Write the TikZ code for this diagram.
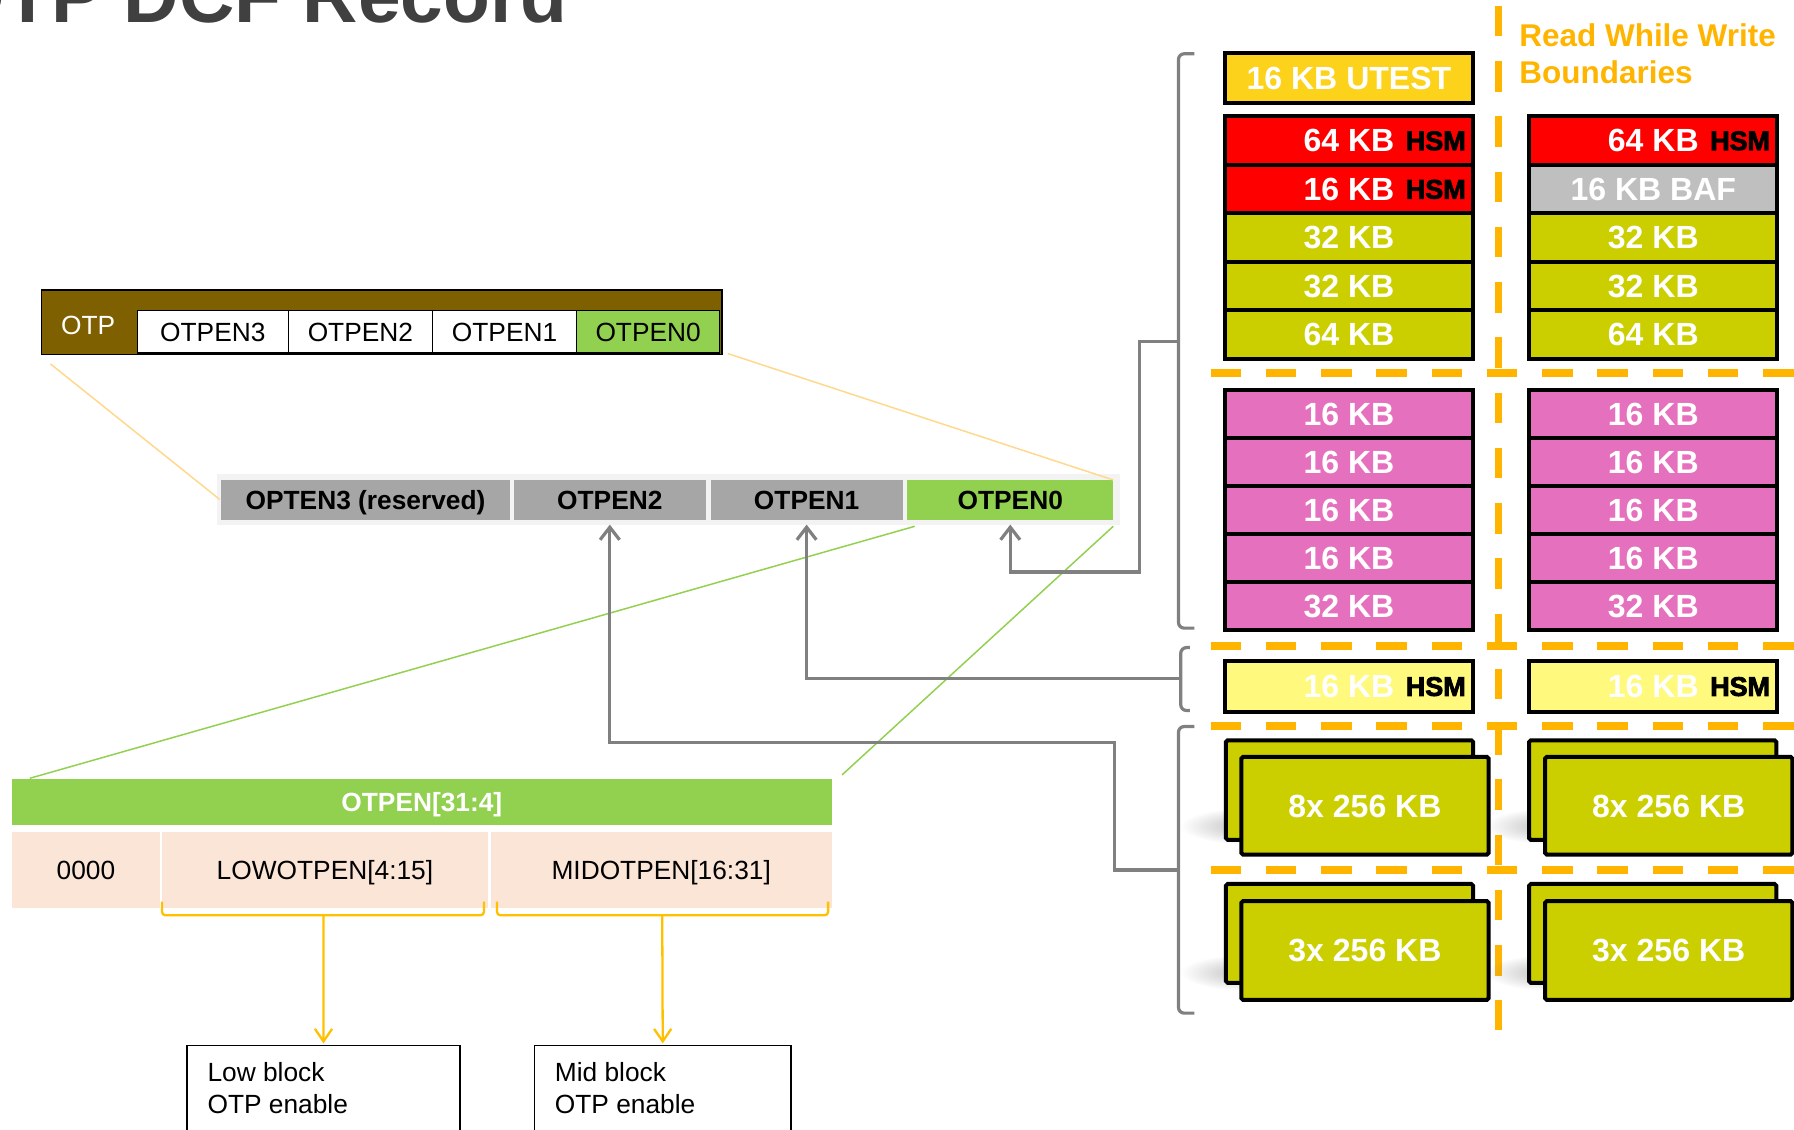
\documentclass[tikz,border=0pt]{standalone}
\usepackage{fontspec}
\setmainfont{Liberation Sans}
\newfontfamily\heavyfont[FakeBold=3]{Liberation Sans Bold}
\usetikzlibrary{arrows.meta,calc,fadings}

\definecolor{otpbrown}{HTML}{7F6000}
\definecolor{otpgreen}{HTML}{92D050}
\definecolor{cellgray}{HTML}{A6A6A6}
\definecolor{panelgray}{HTML}{F3F3F3}
\definecolor{arrowgray}{HTML}{808080}
\definecolor{peach}{HTML}{FBE5D6}
\definecolor{bracegold}{HTML}{FFC000}
\definecolor{rww}{HTML}{FFB400}
\definecolor{linkyellow}{HTML}{FFD88C}
\definecolor{titlegray}{HTML}{404040}
\definecolor{hsmred}{HTML}{FF0000}
\definecolor{kbgreen}{HTML}{CBCF00}
\definecolor{kbpink}{HTML}{E571BE}
\definecolor{utest}{HTML}{FDD21A}
\definecolor{hsmyellow}{HTML}{FFF97D}
\definecolor{bafgray}{HTML}{BFBFBF}

\newcommand\setsz[1]{\fontsize{#1}{#1}\selectfont}
\tikzfading[name=softspot, inner color=transparent!55, outer color=transparent!100]

\begin{document}
\begin{tikzpicture}[x=1pt, y=-1pt,
  every node/.style={inner sep=0pt, outer sep=0pt},
  capbox/.style={text height=16.5pt, text depth=0pt},
  otpcell/.style={draw=black, line width=1.2pt, fill=white, minimum height=37, font=\setsz{23}, capbox},
  gcell/.style={fill=cellgray, minimum height=35, font=\setsz{23}\bfseries, capbox},
  pcell/.style={fill=peach, minimum height=66.5, font=\setsz{23}, capbox},
  memrow/.style={draw=black, line width=3.5pt, minimum width=217, text=white, font=\setsz{28}\bfseries, text height=20pt, text depth=0pt},
  stackbox/.style={draw=black, line width=3.5pt, fill=kbgreen, rounded corners=1.5pt, minimum width=216, minimum height=86, text=white, font=\setsz{28}\bfseries, text height=20pt, text depth=0pt},
  hsmtag/.style={anchor=east, text=black, font=\heavyfont\setsz{23.5}, text height=17pt, text depth=0pt},
  infobox/.style={draw=black, line width=1.2pt, fill=white},
  infotext/.style={anchor=base west, font=\setsz{23}},
  garrow/.style={draw=arrowgray, line width=2.8pt, -{Straight Barb[length=11pt, width=17pt]}, shorten >=4pt},
  oarrow/.style={draw=bracegold, line width=2pt, -{Straight Barb[length=11pt, width=15pt]}, shorten >=2pt},
  bracket/.style={draw=arrowgray, line width=2.8pt, rounded corners=5pt},
  obrace/.style={draw=bracegold, line width=2pt, rounded corners=3pt},
  dashline/.style={draw=rww, line width=6.5pt, dash pattern=on 26.7pt off 21.6pt},
  thinlink/.style={line width=1.3pt},
  shadowspot/.style={black!60, path fading=softspot}
]
\useasboundingbox (0,0) rectangle (1568,987);
\clip (0,0) rectangle (1568,987);

% ---------- title ----------
\node[anchor=base west, text=titlegray, font=\setsz{67}\bfseries] (title) at (-48,20) {OTP DCF Record};

% ---------- OTP register ----------
\node[draw=black, line width=1.2pt, fill=otpbrown, minimum width=595, minimum height=56.5, anchor=north west] (otpbar) at (36,253.5) {};
\node[text=white, font=\setsz{23}, capbox] (otplbl) at (77,284) {OTP};
\node[otpcell, minimum width=132] (o3) at (186,290) {OTPEN3};
\node[otpcell, minimum width=126] (o2) at (315,290) {OTPEN2};
\node[otpcell, minimum width=126] (o1) at (441,290) {OTPEN1};
\node[otpcell, minimum width=125, fill=otpgreen] (o0) at (566.5,290) {OTPEN0};

% ---------- enable field row ----------
\node[fill=panelgray, minimum width=789, minimum height=45] (panel) at (584.5,436.5) {};
\draw[linkyellow, thinlink] ($(otpbar.south west)+(8,8)$) -- ($(panel.west)+(2,0)$);
\node[gcell, minimum width=253] (g3) at (319.5,437) {OPTEN3 (reserved)};
\node[gcell, minimum width=168] (g2) at (533,437) {OTPEN2};
\node[gcell, minimum width=168] (g1) at (705,437) {OTPEN1};
\node[gcell, minimum width=180, fill=otpgreen] (g0) at (883,437) {OTPEN0};
\draw[linkyellow, thinlink] ($(otpbar.south east)+(5,-1)$) -- (g0.north east);

% ---------- OTPEN[31:4] detail ----------
\node[fill=otpgreen, minimum width=716.6, minimum height=39.5, text=white, font=\setsz{23}\bfseries, capbox] (gbar) at (368.7,701) {OTPEN[31:4]};
\draw[otpgreen, thinlink] ($(g0.south west)+(6.5,5.5)$) -- ($(gbar.north west)+(15.6,-1)$);
\draw[otpgreen, thinlink] ($(g0.south east)+(0,5.5)$) -- ($(gbar.north east)+(9,-4)$);
\node[pcell, minimum width=129.4] (p0) at (75.1,760.25) {0000};
\node[pcell, minimum width=285] (p1) at (284,760.25) {LOWOTPEN[4:15]};
\node[pcell, minimum width=298.3] (p2) at (577.9,760.25) {MIDOTPEN[16:31]};

% braces under the low / mid fields
\draw[obrace] (141.6,788) -- (141.6,800) -- (423,800) -- (423,788);
\draw[obrace] (434.4,788) -- (434.4,800) -- (723.8,800) -- (723.8,788);
\coordinate (lowtip) at (282.8,800);
\coordinate (midtip) at (578.8,800);

\node[infobox, minimum width=238.5, minimum height=96] (lowbox) at (282.75,962) {};
\node[infobox, minimum width=224.5, minimum height=96] (midbox) at (579.25,962) {};
\node[infotext] (lowt1) at (181.4,945.4) {Low block};
\node[infotext] (lowt2) at (181.4,973) {OTP enable};
\node[infotext] (midt1) at (485,945.4) {Mid block};
\node[infotext] (midt2) at (485,973) {OTP enable};
\draw[oarrow] (lowtip) -- (lowbox.north);
\draw[oarrow] (midtip) -- (midbox.north);

% ---------- read-while-write boundaries ----------
\draw[dashline] (1058,326) -- (1580,326);
\draw[dashline] (1058,564.6) -- (1580,564.6);
\draw[dashline] (1058,634.6) -- (1580,634.6);
\draw[dashline] (1058,760.4) -- (1580,760.4);
\draw[dashline] (1309.5,5) -- (1309.5,900);
\node[anchor=base west, text=rww, font=\setsz{27.5}\bfseries] (rww1) at (1328,40.8) {Read While Write};
\node[anchor=base west, text=rww, font=\setsz{27.5}\bfseries] (rww2) at (1328,72.8) {Boundaries};

% ---------- flash sectors, first column ----------
\node[memrow, fill=utest, minimum height=44.3] (u1) at (1179,68.2) {16 KB UTEST};
\node[memrow, fill=hsmred, minimum height=42.4] (a1) at (1179,122.7) {64 KB};
\node[hsmtag] (a1h) at (1281,122.7) {HSM};
\node[memrow, fill=hsmred, minimum height=42.4] (a2) at (1179,165.1) {16 KB};
\node[hsmtag] (a2h) at (1281,165.1) {HSM};
\node[memrow, fill=kbgreen, minimum height=42.4] (a3) at (1179,207.5) {32 KB};
\node[memrow, fill=kbgreen, minimum height=42.4] (a4) at (1179,249.9) {32 KB};
\node[memrow, fill=kbgreen, minimum height=42.4] (a5) at (1179,292.3) {64 KB};

\node[memrow, fill=kbpink, minimum height=42] (c1) at (1179,361.5) {16 KB};
\node[memrow, fill=kbpink, minimum height=42] (c2) at (1179,403.5) {16 KB};
\node[memrow, fill=kbpink, minimum height=42] (c3) at (1179,445.5) {16 KB};
\node[memrow, fill=kbpink, minimum height=42] (c4) at (1179,487.5) {16 KB};
\node[memrow, fill=kbpink, minimum height=42] (c5) at (1179,529.5) {32 KB};

\node[memrow, fill=hsmyellow, minimum height=44.5] (h1) at (1179,599.7) {16 KB};
\node[hsmtag] (h1h) at (1281,599.7) {HSM};

% ---------- flash sectors, second column ----------
\node[memrow, fill=hsmred, minimum height=42.4] (b1) at (1445,122.7) {64 KB};
\node[hsmtag] (b1h) at (1547,122.7) {HSM};
\node[memrow, fill=bafgray, minimum height=42.4] (b2) at (1445,165.1) {16 KB BAF};
\node[memrow, fill=kbgreen, minimum height=42.4] (b3) at (1445,207.5) {32 KB};
\node[memrow, fill=kbgreen, minimum height=42.4] (b4) at (1445,249.9) {32 KB};
\node[memrow, fill=kbgreen, minimum height=42.4] (b5) at (1445,292.3) {64 KB};

\node[memrow, fill=kbpink, minimum height=42] (d1) at (1445,361.5) {16 KB};
\node[memrow, fill=kbpink, minimum height=42] (d2) at (1445,403.5) {16 KB};
\node[memrow, fill=kbpink, minimum height=42] (d3) at (1445,445.5) {16 KB};
\node[memrow, fill=kbpink, minimum height=42] (d4) at (1445,487.5) {16 KB};
\node[memrow, fill=kbpink, minimum height=42] (d5) at (1445,529.5) {32 KB};

\node[memrow, fill=hsmyellow, minimum height=44.5] (h2) at (1445,599.7) {16 KB};
\node[hsmtag] (h2h) at (1547,599.7) {HSM};

% ---------- large sector stacks ----------
\fill[shadowspot] (1092,722) ellipse [x radius=60, y radius=16];
\fill[shadowspot] (1358,722) ellipse [x radius=60, y radius=16];
\fill[shadowspot] (1092,850) ellipse [x radius=60, y radius=16];
\fill[shadowspot] (1358,850) ellipse [x radius=60, y radius=16];

\node[stackbox, minimum height=87] (s1b) at (1179.5,690.5) {};
\node[stackbox, minimum height=85.5] (s1f) at (1193,704.25) {8x 256 KB};
\node[stackbox, minimum height=87] (s2b) at (1444.5,690.5) {};
\node[stackbox, minimum height=85.5] (s2f) at (1458.5,704.25) {8x 256 KB};

\node[stackbox, minimum height=86.4] (t1b) at (1179.5,815.8) {};
\node[stackbox, minimum height=86.5] (t1f) at (1193,830.75) {3x 256 KB};
\node[stackbox, minimum height=86.4] (t2b) at (1444.5,815.8) {};
\node[stackbox, minimum height=86.5] (t2f) at (1458.5,830.75) {3x 256 KB};

% ---------- brackets and enable arrows ----------
\draw[bracket] (1044,47) -- (1030,47) -- (1030,549) -- (1044,549);
\draw[bracket] (1040,566) -- (1032,566) -- (1032,621) -- (1040,621);
\draw[bracket] (1044,635) -- (1030,635) -- (1030,885.5) -- (1044,885.5);
\coordinate (tipA) at (1030,298.5);
\coordinate (tipB) at (1032,593);
\coordinate (tipC) at (1030,760.4);
\coordinate (j0) at (996,500);
\coordinate (j2) at (974,649);
\draw[garrow] (tipA) -| (j0) -| (g0.south);
\draw[garrow] (tipB) -| (g1.south);
\draw[garrow] (tipC) -| (j2) -| (g2.south);
\end{tikzpicture}
\end{document}
